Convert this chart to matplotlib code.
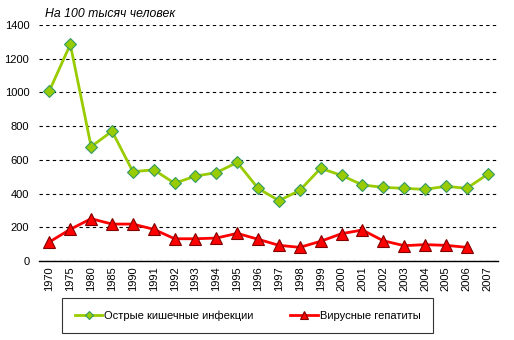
import matplotlib

matplotlib.use("Agg")
import matplotlib.pyplot as plt
import numpy as np

plt.rcParams["font.family"] = ["Liberation Sans", "DejaVu Sans"]

years = ["1970", "1975", "1980", "1985", "1990", "1991", "1992", "1993", "1994",
         "1995", "1996", "1997", "1998", "1999", "2000", "2001", "2002", "2003",
         "2004", "2005", "2006", "2007"]
intestinal = [1010, 1285, 678, 770, 530, 541, 461, 504, 524, 585, 431, 358,
              419, 550, 508, 451, 437, 431, 425, 443, 431, 514]
hepatitis = [113, 188, 251, 219, 219, 188, 132, 132, 136, 164, 129, 93,
             81, 117, 162, 184, 120, 91, 97, 93, 81, np.nan]

fig = plt.figure(figsize=(5.14, 3.40), dpi=100)
ax = fig.add_axes([39 / 514, 1 - 261 / 340, 459 / 514, 236 / 340])

x = np.arange(len(years))
ax.plot(x, intestinal, color="#99CC00", lw=2, marker="D", ms=6.5,
        mfc="#99CC00", mec="#339966", mew=0.8, label="Острые кишечные инфекции")
ax.plot(x, hepatitis, color="#FF0000", lw=2, marker="^", ms=8.5,
        mfc="#FF0000", mec="#800000", mew=0.8, label="Вирусные гепатиты")

ax.set_xlim(-0.5, len(years) - 0.5)
ax.set_ylim(0, 1400)
ax.set_yticks(range(0, 1401, 200))
ax.set_xticks(x)
ax.set_xticklabels(years, rotation=90, fontsize=8)
ax.tick_params(axis="y", labelsize=8, length=0, pad=7)
ax.tick_params(axis="x", length=0, pad=4)
ax.yaxis.grid(True, color="black", linestyle=(0, (3, 3)), linewidth=0.8)
ax.set_axisbelow(True)
for side in ["left", "right", "top"]:
    ax.spines[side].set_visible(False)
ax.spines["bottom"].set_linewidth(1)

fig.text(45 / 514, 1 - 14 / 340, "На 100 тысяч человек", fontsize=8.8,
         style="italic", va="center")

leg = fig.legend(loc="center", bbox_to_anchor=(247.5 / 514, 1 - 315.5 / 340),
                 ncol=2, fontsize=8, frameon=True, fancybox=False,
                 edgecolor="black", handlelength=2.5, handletextpad=0.15,
                 columnspacing=3.3, borderpad=1.1, markerscale=0.6)
leg.get_frame().set_linewidth(0.8)

fig.savefig("out.png", dpi=100)
